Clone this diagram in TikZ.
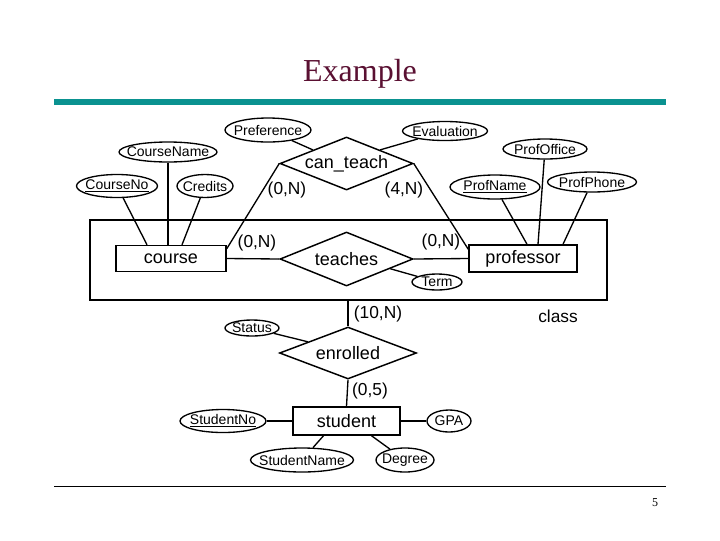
\documentclass[tikz,border=0pt]{standalone}
\usepackage{fontspec}
\setmainfont{Liberation Sans}
\newfontfamily\seriffont{Liberation Serif}
\usetikzlibrary{shapes.geometric,calc}
\definecolor{titlecol}{RGB}{90,16,50}
\definecolor{barcol}{RGB}{10,146,144}
\begin{document}
\begin{tikzpicture}[x=0.75pt,y=-0.75pt,
  sz/.style 2 args={minimum width=#1*0.75pt, minimum height=#2*0.75pt},
  ent/.style={draw,line width=1.1pt,rectangle,inner sep=0pt,font=\fontsize{13.5}{16}\selectfont},
  rel/.style={draw,line width=1.1pt,diamond,inner sep=0pt,
    label={[font=\fontsize{13.5}{16}\selectfont]center:#1}},
  attr/.style={draw,line width=1pt,ellipse,inner sep=0pt,
    label={[font=\fontsize{10.5}{12}\selectfont,inner sep=0pt]center:#1}},
  conn/.style={line width=1pt},
  card/.style={font=\fontsize{13}{15}\selectfont,inner sep=0pt}]
\useasboundingbox (0,0) rectangle (720,540);
\fill[white] (0,0) rectangle (720,540);

% slide frame
\node[font=\seriffont\fontsize{24}{28}\selectfont, text=titlecol] (title) at (360,74) {Example};
\fill[barcol] (54,99) rectangle (666,105);
\draw[line width=0.75pt] (54,486) -- (666,486);
\node[font=\seriffont\fontsize{9}{11}\selectfont] (pageno) at (655,503) {5};

% aggregation box
\node[draw,line width=1.1pt,sz={517}{80}] (class) at (348.5,260) {};

% entities
\node[ent,sz={110}{26}] (course) at (171,258.5) {course};
\node[ent,sz={108}{27}] (prof) at (523,258.5) {professor};
\node[ent,sz={107}{28}] (student) at (346.5,421) {student};

% relationships
\node[rel={teaches},sz={133}{54}] (teaches) at (346.5,259) {};
\node[rel={can\_teach},sz={133}{53}] (canteach) at (346.5,163.5) {};
\node[rel={enrolled},sz={137}{52}] (enrolled) at (348,353) {};

% attributes
\node[attr={Preference},sz={86}{24}] (pref) at (268,130) {};
\node[attr={Evaluation},sz={85}{19}] (eval) at (445,131) {};
\node[attr={CourseName},sz={98}{20}] (cname) at (168,152) {};
\node[attr={\underline{CourseNo}},sz={81}{23}] (cno) at (117,186) {};
\node[attr={Credits},sz={56}{23}] (credits) at (205,186) {};
\node[attr={ProfOffice},sz={84}{20}] (poffice) at (545,149) {};
\node[attr={\underline{ProfName}},sz={90}{24}] (pname) at (495,187) {};
\node[attr={ProfPhone},sz={89}{20}] (pphone) at (592,182) {};
\node[attr={Term},sz={50}{16}] (term) at (437,282) {};
\node[attr={Status},sz={54}{16}] (status) at (252,328) {};
\node[attr={\underline{StudentNo}},sz={86}{23}] (sno) at (223,421) {};
\node[attr={GPA},sz={44}{22}] (gpa) at (449,421) {};
\node[attr={StudentName},sz={103}{24}] (sname) at (302,460) {};
\node[attr={Degree},sz={58}{24}] (degree) at (405,460) {};

% connectors
\draw[conn] (cno) -- ($(course.north)+(-24,0)$);
\draw[conn] (cname.south) -- (cname.south |- course.north);
\draw[conn] (credits) -- ($(course.north)+(11,0)$);
\draw[conn] (canteach.west) -- ($(course.north east)+(0,4)$);
\draw[conn] (canteach.east) -- ($(prof.north west)+(0,5)$);
\draw[conn] (pref) -- ($(canteach.west)!0.5!(canteach.north)$);
\draw[conn] (eval) -- ($(canteach.east)!0.5!(canteach.north)$);
\draw[conn] (pname) -- ($(prof.north)+(4,0)$);
\draw[conn] (poffice) -- ($(prof.north)+(15,0)$);
\draw[conn] (pphone) -- ($(prof.north)+(40,0)$);
\draw[conn] (course.east) -- (teaches.west);
\draw[conn] (teaches.east) -- (prof.west);
\draw[conn] ($(teaches.east)!0.35!(teaches.south)$) -- (term);
\draw[conn] (class.south -| enrolled.north) -- (enrolled.north);
\draw[conn] (status) -- ($(enrolled.west)!0.42!(enrolled.north)$);
\draw[conn] (enrolled.south) -- (student.north);
\draw[conn] (sno) -- (student.west);
\draw[conn] (student.east) -- (gpa);
\draw[conn] ($(student.south)+(-23,0)$) -- (sname);
\draw[conn] ($(student.south)+(25,0)$) -- (degree);

% cardinalities
\node[card] (c1) at (287,190) {(0,N)};
\node[card] (c2) at (404,190) {(4,N)};
\node[card] (c3) at (257,243) {(0,N)};
\node[card] (c4) at (441,242) {(0,N)};
\node[card] (c5) at (378,314) {(10,N)};
\node[card] (c6) at (370,391) {(0,5)};
\node[card] (classlbl) at (558,316) {class};
\end{tikzpicture}
\end{document}
